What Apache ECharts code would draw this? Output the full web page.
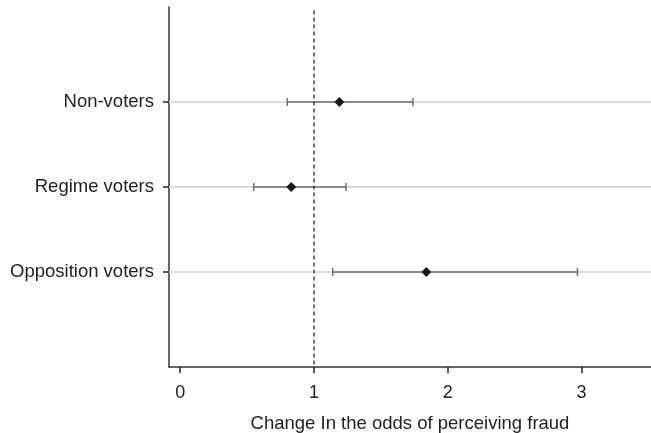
<!DOCTYPE html>
<html>
<head>
<meta charset="utf-8">
<script src="https://cdn.jsdelivr.net/npm/echarts@6/dist/echarts.min.js"></script>
<style>
html,body{margin:0;padding:0;background:#fff;}
#chart{width:651px;height:433px;}
</style>
</head>
<body>
<div id="chart"></div>
<script>
const categories = ['Non-voters', 'Regime voters', 'Opposition voters'];
const estimates = [1.19, 0.83, 1.84];
const lowerCI = [0.80, 0.55, 1.14];
const upperCI = [1.74, 1.24, 2.97];
const xTicks = [0, 1, 2, 3];
const referenceValue = 1;
const xAxisTitle = 'Change In the odds of perceiving fraud';

const FONT = '"Liberation Sans", Arial, Helvetica, sans-serif';
const idx = categories.map((c, i) => i);

const chart = echarts.init(document.getElementById('chart'), null, {renderer: 'canvas'});
chart.setOption({
  animation: false,
  backgroundColor: '#fff',
  grid: {left: 169, right: 0, top: 7, bottom: 66, containLabel: false, outerBoundsMode: 'none'},
  xAxis: {
    type: 'value',
    min: -0.084,
    max: 3.52,
    name: xAxisTitle,
    nameLocation: 'middle',
    nameGap: 47,
    nameTextStyle: {fontFamily: FONT, fontSize: 18.5, color: '#222'},
    axisLine: {show: true, onZero: false, lineStyle: {color: '#333', width: 1.5}},
    axisTick: {show: true, customValues: xTicks, length: 6, inside: false, lineStyle: {color: '#222', width: 1.5}},
    axisLabel: {customValues: xTicks, margin: 17, fontFamily: FONT, fontSize: 18, color: '#222'},
    splitLine: {show: false}
  },
  yAxis: {
    type: 'value',
    min: -1.12,
    max: 3.12,
    inverse: true,
    axisLine: {show: true, onZero: false, lineStyle: {color: '#333', width: 1.5}},
    axisTick: {show: true, customValues: idx, length: 6, lineStyle: {color: '#222', width: 1.5}},
    axisLabel: {
      customValues: idx,
      margin: 15,
      fontFamily: FONT, fontSize: 18.5, color: '#222',
      formatter: v => categories[Math.round(v)] || ''
    },
    splitLine: {show: false}
  },
  series: [
    {
      type: 'line',
      data: [],
      z: 1,
      silent: true,
      markLine: {
        z: 1,
        silent: true,
        symbol: ['none', 'none'],
        label: {show: false},
        lineStyle: {color: '#dcdcdc', width: 2, type: 'solid'},
        emphasis: {disabled: true},
        data: idx.map(i => ({yAxis: i}))
      }
    },
    {
      type: 'custom',
      z: 2,
      silent: true,
      data: idx.map(i => [lowerCI[i], upperCI[i], i]),
      encode: {x: [0, 1], y: 2},
      renderItem: function (params, api) {
        const y = api.value(2);
        const p1 = api.coord([api.value(0), y]);
        const p2 = api.coord([api.value(1), y]);
        const h = 4;
        const st = {stroke: '#6f6f6f', lineWidth: 1.5};
        return {
          type: 'group',
          children: [
            {type: 'line', shape: {x1: p1[0], y1: p1[1], x2: p2[0], y2: p2[1]}, style: st},
            {type: 'line', shape: {x1: p1[0], y1: p1[1] - h, x2: p1[0], y2: p1[1] + h}, style: st},
            {type: 'line', shape: {x1: p2[0], y1: p2[1] - h, x2: p2[0], y2: p2[1] + h}, style: st}
          ]
        };
      }
    },
    {
      type: 'line',
      data: [],
      z: 3,
      silent: true,
      markLine: {
        z: 3,
        silent: true,
        symbol: ['none', 'none'],
        label: {show: false},
        lineStyle: {color: '#444', width: 1.5, type: [4, 3]},
        emphasis: {disabled: true},
        data: [[{xAxis: referenceValue, yAxis: -1.08}, {xAxis: referenceValue, yAxis: 3.12}]]
      }
    },
    {
      type: 'scatter',
      z: 4,
      symbol: 'diamond',
      symbolSize: 10,
      itemStyle: {color: '#1a1a1a', opacity: 1},
      data: idx.map(i => [estimates[i], i])
    }
  ]
});
</script>
</body>
</html>
